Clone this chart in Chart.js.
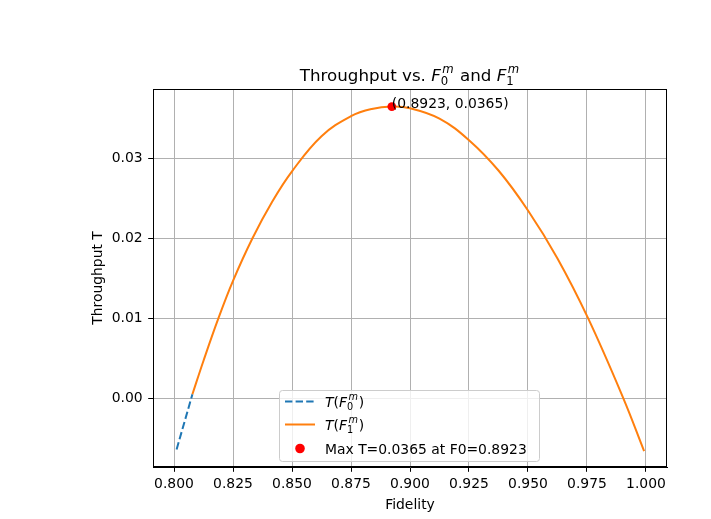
<!DOCTYPE html>
<html>
<head>
<meta charset="utf-8">
<script src="https://cdn.jsdelivr.net/npm/chart.js@4"></script>
<style>
  html, body { margin: 0; padding: 0; background: #fff; }
  canvas { display: block; }
</style>
</head>
<body>
<canvas id="chart" width="711" height="519"></canvas>
<script>
// values
const blueF = [0.8011, 0.8078];
const blueT = [-0.0064, 0.0005];

const orangeF = [0.8078, 0.8125, 0.8188, 0.8250, 0.8332, 0.8416, 0.8500, 0.8625, 0.8750, 0.8838,
                 0.8923, 0.9000, 0.9125, 0.9250, 0.9375, 0.9500, 0.9625, 0.9755, 0.9904, 0.9992];
const orangeT = [0.0005, 0.0047, 0.0100, 0.0147, 0.0200, 0.0246, 0.0284, 0.0328, 0.0353, 0.0362,
                 0.0365, 0.0363, 0.0350, 0.0323, 0.0285, 0.0235, 0.0175, 0.0100, 0.0000, -0.0066];

const maxF = [0.8923];
const maxT = [0.0365];

const xTickStep = 0.025;
const yTickStep = 0.01;

const FONT = '"DejaVu Sans", sans-serif';
const FS = 13.9;
const BLUE = '#1f77b4';
const ORANGE = '#ff7f0e';

const toPoints = (xs, ys) => xs.map((x, i) => ({ x: x, y: ys[i] }));

// draws text made of runs, some with stacked super/subscripts
function mathText(ctx, runs, size, x, y, draw) {
  let cx = x;
  runs.forEach(r => {
    if (r.sup !== undefined || r.sub !== undefined) {
      const s = size * 0.7;
      ctx.font = `italic ${s}px ${FONT}`;
      const w1 = r.sup ? ctx.measureText(r.sup).width : 0;
      if (draw && r.sup) ctx.fillText(r.sup, cx + 1.5, y - size * 0.48);
      ctx.font = `${s}px ${FONT}`;
      const w2 = r.sub ? ctx.measureText(r.sub).width : 0;
      if (draw && r.sub) ctx.fillText(r.sub, cx, y + size * 0.26);
      cx += Math.max(w1 + 1.5, w2) + 1;
    } else {
      ctx.font = `${r.italic ? 'italic ' : ''}${size}px ${FONT}`;
      if (draw) ctx.fillText(r.text, cx, y);
      cx += ctx.measureText(r.text).width;
    }
  });
  return cx - x;
}

const titleRuns = [
  { text: 'Throughput vs. ' }, { text: 'F', italic: true }, { sup: 'm', sub: '0' },
  { text: ' and ' }, { text: 'F', italic: true }, { sup: 'm', sub: '1' }
];
const label0 = [{ text: 'T', italic: true }, { text: '(' }, { text: 'F', italic: true }, { sup: 'm', sub: '0' }, { text: ')' }];
const label1 = [{ text: 'T', italic: true }, { text: '(' }, { text: 'F', italic: true }, { sup: 'm', sub: '1' }, { text: ')' }];

const decor = {
  id: 'decor',
  afterDraw(chart) {
    const ctx = chart.ctx;
    const a = chart.chartArea;
    const xs = chart.scales.x, ys = chart.scales.y;
    ctx.save();

    // top and right spines
    ctx.strokeStyle = '#000';
    ctx.lineWidth = 1;
    ctx.strokeRect(Math.round(a.left) + 0.5, Math.round(a.top) + 0.5,
                   Math.round(a.right - a.left) - 1, Math.round(a.bottom - a.top) - 1);

    ctx.fillStyle = '#000';
    ctx.textBaseline = 'alphabetic';

    // title
    const cx = (a.left + a.right) / 2;
    const tw = mathText(ctx, titleRuns, 16.7, 0, 0, false);
    mathText(ctx, titleRuns, 16.7, cx - tw / 2, 81, true);

    // axis titles
    ctx.font = `${FS}px ${FONT}`;
    ctx.textAlign = 'center';
    ctx.fillText('Fidelity', cx, 509);
    ctx.save();
    ctx.translate(102, (a.top + a.bottom) / 2);
    ctx.rotate(-Math.PI / 2);
    ctx.fillText('Throughput T', 0, 0);
    ctx.restore();

    // annotation at the maximum
    ctx.textAlign = 'left';
    ctx.font = `${FS}px ${FONT}`;
    const px = xs.getPixelForValue(maxF[0]);
    const py = ys.getPixelForValue(maxT[0]);
    ctx.fillText(`(${maxF[0].toFixed(4)}, ${maxT[0].toFixed(4)})`, px, py + 1);

    // legend
    const lx = 279.5, ly = 390.5, lw = 260, lh = 71;
    ctx.beginPath();
    ctx.roundRect(lx, ly, lw, lh, 3);
    ctx.fillStyle = 'rgba(255,255,255,0.8)';
    ctx.fill();
    ctx.strokeStyle = '#cccccc';
    ctx.lineWidth = 1;
    ctx.stroke();

    const rows = [401.5, 424.5, 448.5];
    ctx.lineWidth = 2;
    ctx.strokeStyle = BLUE;
    ctx.setLineDash([7.4, 3.2]);
    ctx.beginPath(); ctx.moveTo(285, rows[0]); ctx.lineTo(315, rows[0]); ctx.stroke();
    ctx.setLineDash([]);
    ctx.strokeStyle = ORANGE;
    ctx.beginPath(); ctx.moveTo(285, rows[1]); ctx.lineTo(315, rows[1]); ctx.stroke();
    ctx.fillStyle = 'red';
    ctx.beginPath(); ctx.arc(300, rows[2], 4.8, 0, Math.PI * 2); ctx.fill();

    ctx.fillStyle = '#000';
    mathText(ctx, label0, FS, 325, rows[0] + 5, true);
    mathText(ctx, label1, FS, 325, rows[1] + 5, true);
    ctx.font = `${FS}px ${FONT}`;
    ctx.fillText(`Max T=${maxT[0].toFixed(4)} at F0=${maxF[0].toFixed(4)}`, 325, rows[2] + 5);

    ctx.restore();
  }
};

const bg = {
  id: 'bg',
  beforeDraw(chart) {
    const ctx = chart.ctx;
    ctx.save();
    ctx.fillStyle = '#fff';
    ctx.fillRect(0, 0, chart.width, chart.height);
    ctx.restore();
  }
};

new Chart(document.getElementById('chart'), {
  type: 'line',
  data: {
    datasets: [
      {
        label: 'Max',
        data: toPoints(maxF, maxT),
        showLine: false,
        pointRadius: 4.4,
        pointBackgroundColor: 'red',
        pointBorderColor: 'red',
        pointBorderWidth: 0,
        order: 0
      },
      {
        label: 'T(F1m)',
        data: toPoints(orangeF, orangeT),
        borderColor: ORANGE,
        borderWidth: 2,
        pointRadius: 0,
        tension: 0.4,
        fill: false,
        order: 1
      },
      {
        label: 'T(F0m)',
        data: toPoints(blueF, blueT),
        borderColor: BLUE,
        borderWidth: 2,
        borderDash: [7.4, 3.2],
        pointRadius: 0,
        fill: false,
        order: 2
      }
    ]
  },
  options: {
    responsive: false,
    animation: false,
    devicePixelRatio: 1,
    layout: { padding: { top: 89, right: 44, left: 0, bottom: 0 } },
    plugins: {
      legend: { display: false },
      title: { display: false },
      tooltip: { enabled: false }
    },
    scales: {
      x: {
        type: 'linear',
        min: 0.7911,
        max: 1.0089,
        afterFit: s => { s.height = 52; },
        border: { display: true, color: '#000', width: 1 },
        grid: { color: '#b0b0b0', lineWidth: 1, tickColor: '#000', tickLength: 4.8, tickWidth: 1 },
        ticks: {
          stepSize: xTickStep,
          includeBounds: false,
          autoSkip: false,
          maxRotation: 0,
          padding: 4.5,
          color: '#000',
          font: { family: FONT, size: FS },
          callback: v => v.toFixed(3)
        }
      },
      y: {
        type: 'linear',
        min: -0.0086,
        max: 0.0387,
        afterFit: s => { s.width = 153; },
        border: { display: true, color: '#000', width: 1 },
        grid: { color: '#b0b0b0', lineWidth: 1, tickColor: '#000', tickLength: 4.8, tickWidth: 1 },
        ticks: {
          stepSize: yTickStep,
          includeBounds: false,
          autoSkip: false,
          padding: 5.5,
          color: '#000',
          font: { family: FONT, size: FS },
          callback: v => (Math.abs(v) < 1e-9 ? 0 : v).toFixed(2)
        }
      }
    }
  },
  plugins: [bg, decor]
});
</script>
</body>
</html>
